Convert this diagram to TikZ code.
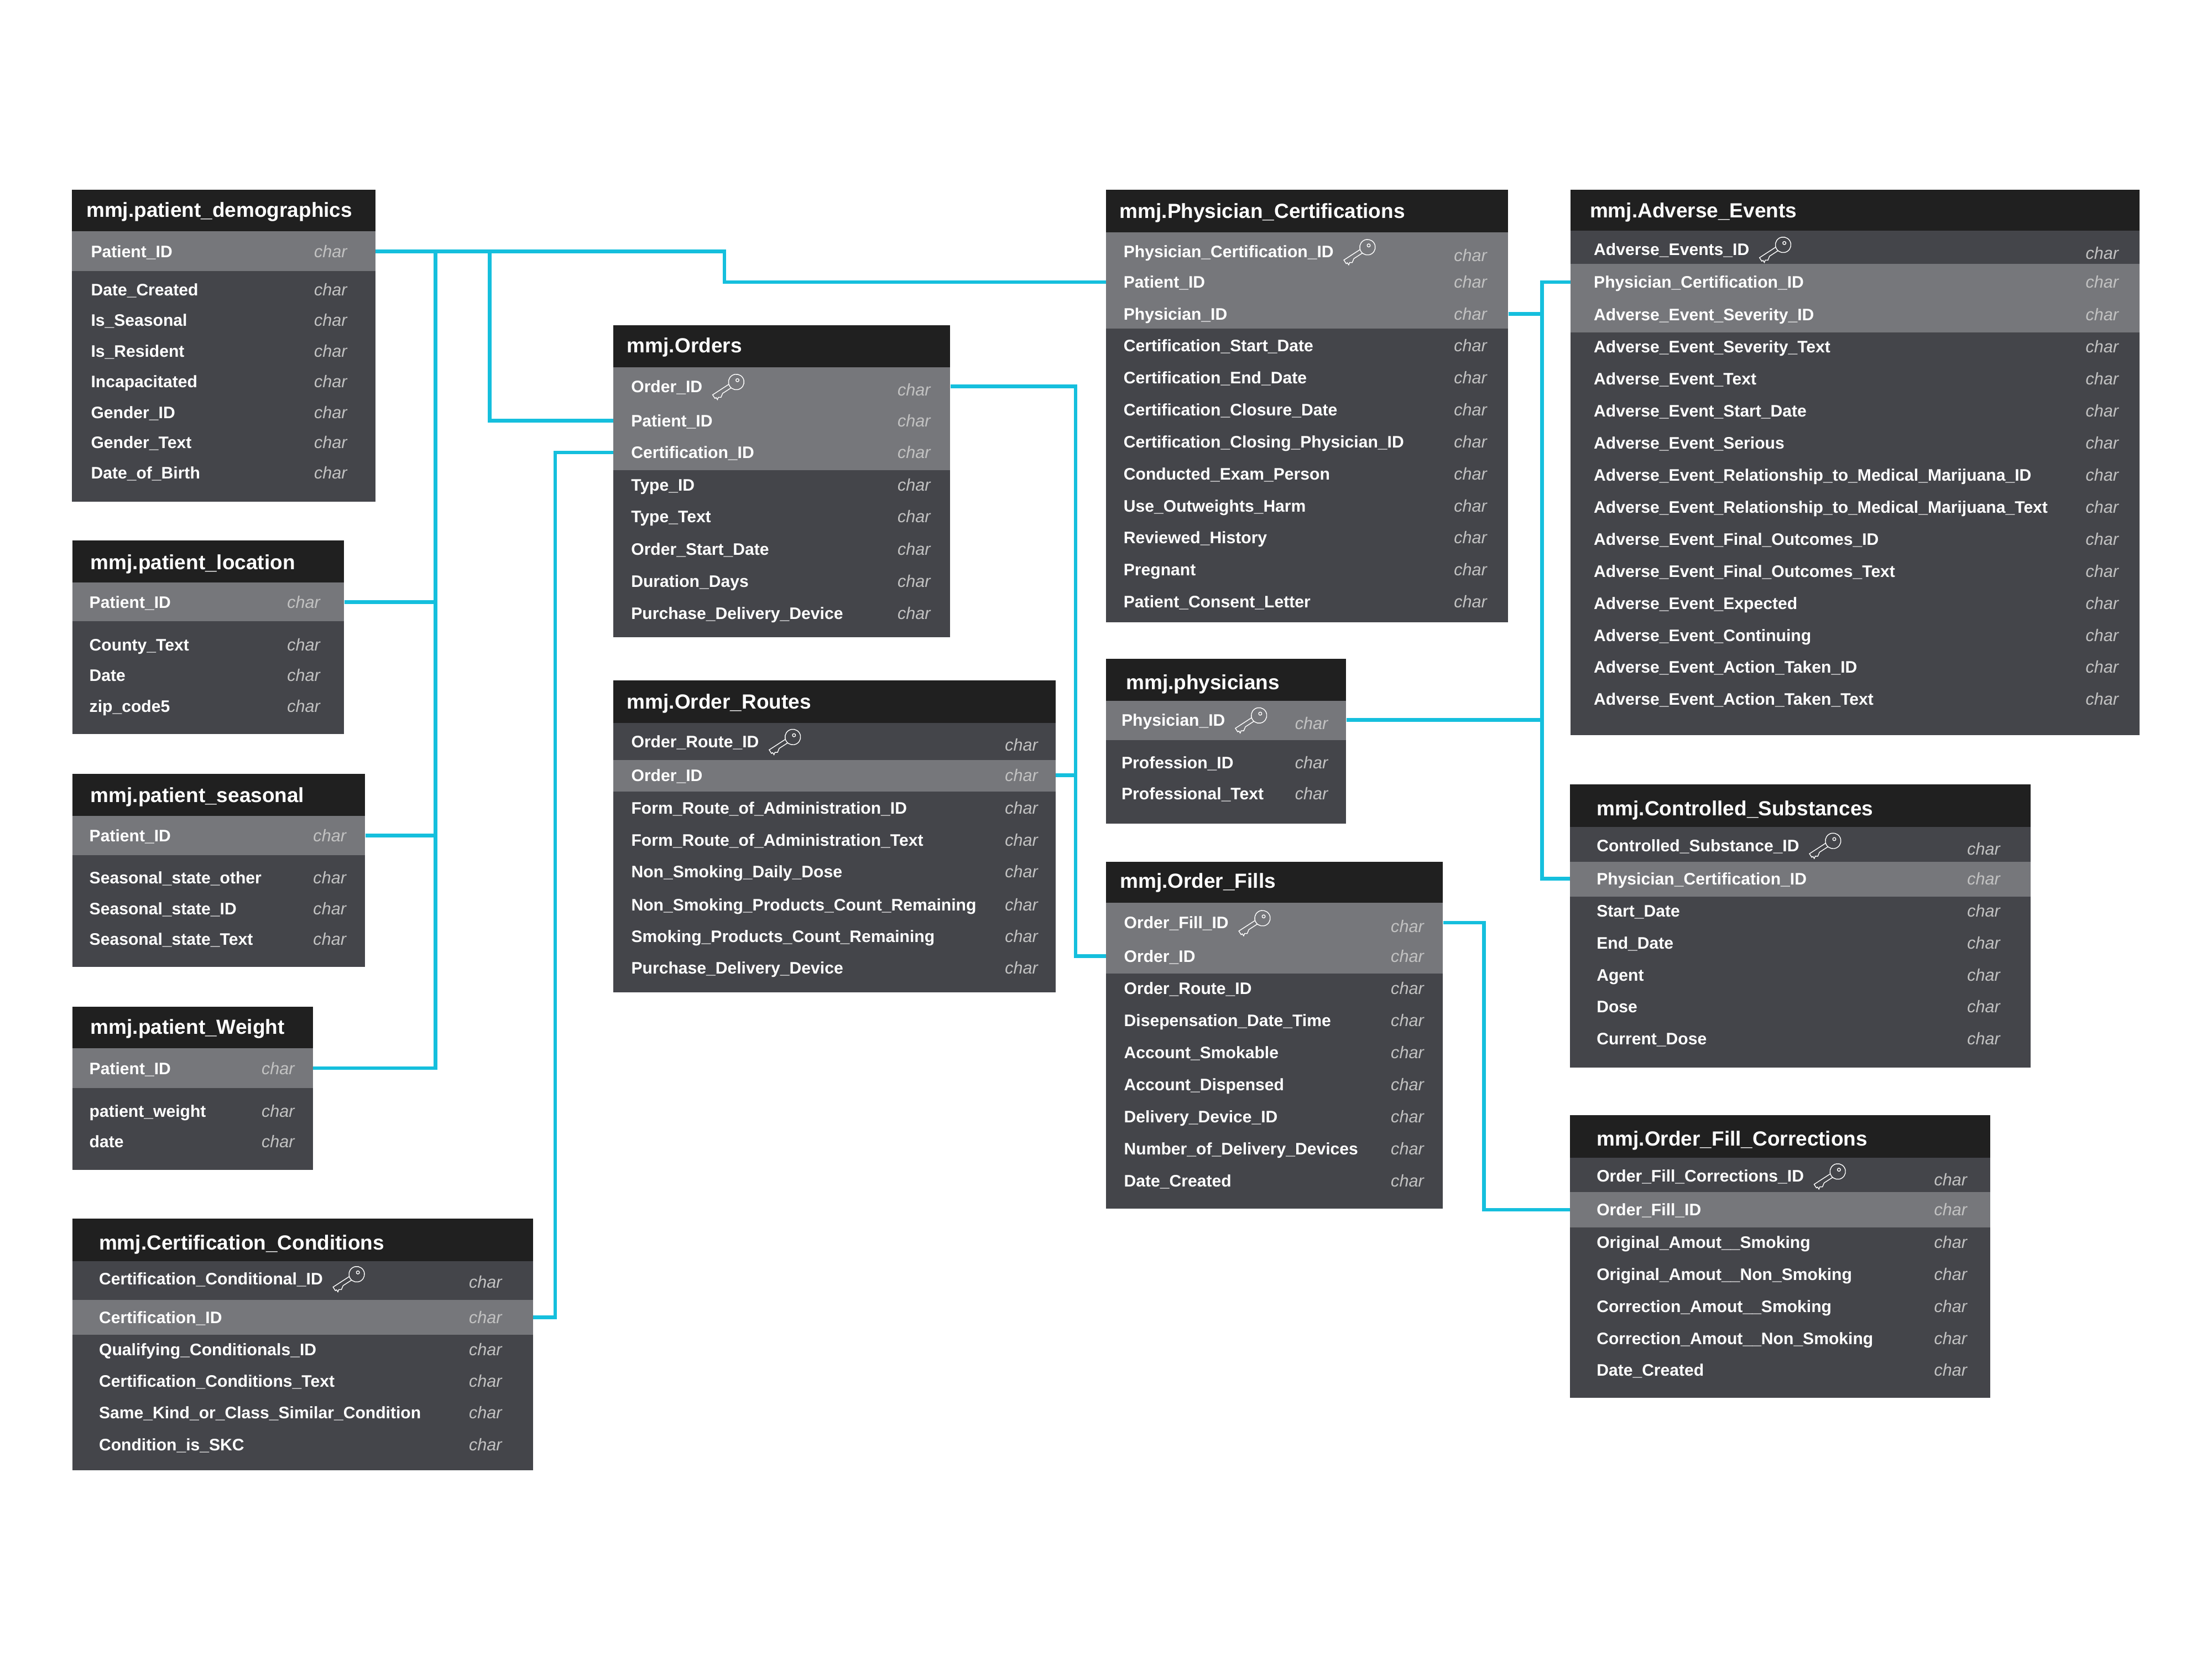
\documentclass[tikz,border=0pt]{standalone}
\usepackage{fontspec}
\setmainfont{Liberation Sans}
\usepackage{tikz}

\definecolor{hdrgray}{HTML}{202020}
\definecolor{bodygray}{HTML}{44454A}
\definecolor{bandgray}{HTML}{76777B}
\definecolor{typegray}{HTML}{C2C2C2}
\definecolor{linkcyan}{HTML}{15BFDD}

% small outlined key
\tikzset{keyico/.pic={
  \begin{scope}[x=1pt,y=1pt,shift={(16.8pt,3.2pt)},rotate=33,draw=white,line width=0.55pt]
  \draw (0,0) circle (5.5);
  \draw (1.4,0.6) circle (1.1);
  \draw (-5.29,1.5) -- (-19,1.5) -- (-19,-1.5) -- (-18,-1.5) -- (-18,-3.2) -- (-16.5,-2.2)
    -- (-15,-3.2) -- (-13.5,-2.2) -- (-12.5,-1.5) -- (-5.29,-1.5);
  \end{scope}}}

\newcommand\ctype{{\fontsize{12}{14}\selectfont\mdseries\itshape\color{typegray}char}}
\newcommand\fld[1]{\hbox to \tw{\hskip\lmar#1\hfill\ctype\hskip\rmar}}
\newcommand\kfld{\hbox to \tw{\hfill\raisebox{-2.5pt}{\ctype}\hskip\rmar}}
\newcommand\tbl[7]{%
  \fill[tbody] (#1,#4) rectangle (#2,#7);
  \fill[hdr] (#1,#3) rectangle (#2,#4);
  \fill[band] (#1,#5) rectangle (#2,#6);}
\newcommand\keyrow[4]{%
  \node[row] (#1) at (#2,#3) {\kfld};
  \node[row,anchor=west,xshift=\lmar] (#1-t) at (#1.west) {#4};
  \pic at ([xshift=7pt]#1-t.east) {keyico};}

\begin{document}
\begin{tikzpicture}[x=1pt,y=-1pt,
hdr/.style={fill=hdrgray},
tbody/.style={fill=bodygray},
band/.style={fill=bandgray},
ttl/.style={anchor=west,inner sep=0pt,text height=10.4pt,text depth=0pt,text=white,
  font=\fontsize{14.5}{17}\selectfont\bfseries},
row/.style={inner sep=0pt,text height=8.5pt,text depth=0pt,text=white,
  font=\fontsize{11.8}{14}\selectfont\bfseries},
conn/.style={draw=linkcyan,line width=2.6pt}]
\useasboundingbox (0,0) rectangle (1568,1176);

% patient tables
\tbl{51}{266}{134.5}{164}{164}{192}{355.4}
\node[ttl] (pd) at (61,148.5) {mmj.patient\_demographics};
\def\tw{215pt}\def\lmar{13.5pt}\def\rmar{20pt}
\foreach \n/\lbl/\y in {pid/Patient\_ID/178.1, dc/Date\_Created/205.1, se/Is\_Seasonal/226.9,
  re/Is\_Resident/248.6, in/Incapacitated/270.4, gi/Gender\_ID/292.1, gt/Gender\_Text/313.6,
  db/Date\_of\_Birth/335.2}
  \node[row] (pd-\n) at (158.5,\y) {\fld{\lbl}};

\tbl{51.4}{243.9}{383}{412.8}{412.8}{440.4}{520.3}
\node[ttl] (pl) at (64,398.2) {mmj.patient\_location};
\def\tw{192.5pt}\def\lmar{12pt}\def\rmar{17pt}
\foreach \n/\lbl/\y in {pid/Patient\_ID/426.7, ct/County\_Text/456.8, dt/Date/478.6, zc/zip\_code5/500.5}
  \node[row] (pl-\n) at (147.65,\y) {\fld{\lbl}};

\tbl{51.4}{258.9}{548.3}{578}{578}{606}{685.3}
\node[ttl] (ps) at (64,563.4) {mmj.patient\_seasonal};
\def\tw{207.5pt}\def\lmar{12pt}\def\rmar{13.5pt}
\foreach \n/\lbl/\y in {pid/Patient\_ID/592, so/Seasonal\_state\_other/622,
  si/Seasonal\_state\_ID/643.9, st/Seasonal\_state\_Text/665.4}
  \node[row] (ps-\n) at (155.15,\y) {\fld{\lbl}};

\tbl{51.4}{221.8}{713.5}{742.9}{742.9}{771.2}{829}
\node[ttl] (pw) at (64,727.5) {mmj.patient\_Weight};
\def\tw{170.4pt}\def\lmar{12pt}\def\rmar{13pt}
\foreach \n/\lbl/\y in {pid/Patient\_ID/757, wt/patient\_weight/787.3, dt/date/808.8}
  \node[row] (pw-\n) at (136.6,\y) {\fld{\lbl}};

\tbl{51.4}{377.8}{863.5}{893.8}{921}{945.8}{1042}
\node[ttl] (cc) at (70,880.7) {mmj.Certification\_Conditions};
\def\tw{326.4pt}\def\lmar{18.8pt}\def\rmar{22pt}
\keyrow{cc-ccid}{214.6}{906.2}{Certification\_Conditional\_ID}
\foreach \n/\lbl/\y in {cid/Certification\_ID/933.6, qc/Qualifying\_Conditionals\_ID/956.5,
  ct/Certification\_Conditions\_Text/978.7, sk/Same\_Kind\_or\_Class\_Similar\_Condition/1001.2,
  is/Condition\_is\_SKC/1023.8}
  \node[row] (cc-\n) at (214.6,\y) {\fld{\lbl}};

% order tables
\tbl{434.8}{673.6}{230.4}{260.4}{260.4}{333.1}{451.6}
\node[ttl] (or) at (444.3,244.6) {mmj.Orders};
\def\tw{238.8pt}\def\lmar{12.6pt}\def\rmar{14pt}
\keyrow{or-oid}{554.2}{273.9}{Order\_ID}
\foreach \n/\lbl/\y in {pat/Patient\_ID/298.2, cid/Certification\_ID/320.7, ti/Type\_ID/343.6,
  tt/Type\_Text/366.1, sd/Order\_Start\_Date/389, dd/Duration\_Days/411.9,
  pd/Purchase\_Delivery\_Device/434.4}
  \node[row] (or-\n) at (554.2,\y) {\fld{\lbl}};

\tbl{434.7}{748.2}{482}{512.5}{538.5}{560.8}{703.3}
\node[ttl] (rt) at (444.2,497) {mmj.Order\_Routes};
\def\tw{313.5pt}\def\lmar{12.8pt}\def\rmar{12.5pt}
\keyrow{rt-rid}{591.45}{525.5}{Order\_Route\_ID}
\foreach \n/\lbl/\y in {oid/Order\_ID/549.5, fi/Form\_Route\_of\_Administration\_ID/572.4,
  ft/Form\_Route\_of\_Administration\_Text/595.2, nd/Non\_Smoking\_Daily\_Dose/617.8,
  nr/Non\_Smoking\_Products\_Count\_Remaining/641, sr/Smoking\_Products\_Count\_Remaining/663.5,
  pd/Purchase\_Delivery\_Device/686}
  \node[row] (rt-\n) at (591.45,\y) {\fld{\lbl}};

% physician tables
\tbl{784}{1069}{134.6}{164.6}{164.6}{232.9}{441}
\node[ttl] (pc) at (793.5,149.6) {mmj.Physician\_Certifications};
\def\tw{285pt}\def\lmar{12.5pt}\def\rmar{15pt}
\keyrow{pc-pcid}{926.5}{178.4}{Physician\_Certification\_ID}
\foreach \n/\lbl/\y in {pat/Patient\_ID/199.9, phy/Physician\_ID/222.4,
  sd/Certification\_Start\_Date/245, ed/Certification\_End\_Date/267.6,
  cd/Certification\_Closure\_Date/290.3, cp/Certification\_Closing\_Physician\_ID/313,
  ce/Conducted\_Exam\_Person/335.7, uo/Use\_Outweights\_Harm/358.4, rh/Reviewed\_History/381,
  pr/Pregnant/403.8, pl/Patient\_Consent\_Letter/426.5}
  \node[row] (pc-\n) at (926.5,\y) {\fld{\lbl}};

\tbl{784}{954.3}{466.9}{496.8}{496.8}{524.3}{583.6}
\node[ttl] (ph) at (798,483.6) {mmj.physicians};
\def\tw{170.3pt}\def\lmar{11pt}\def\rmar{13pt}
\keyrow{ph-pid}{869.15}{510.2}{Physician\_ID}
\foreach \n/\lbl/\y in {pf/Profession\_ID/540.6, pt/Professional\_Text/562.2}
  \node[row] (ph-\n) at (869.15,\y) {\fld{\lbl}};

\tbl{784}{1022.9}{610.6}{639.7}{639.7}{690}{856.6}
\node[ttl] (of) at (793.7,624.3) {mmj.Order\_Fills};
\def\tw{238.9pt}\def\lmar{12.8pt}\def\rmar{13.6pt}
\keyrow{of-fid}{903.45}{653.9}{Order\_Fill\_ID}
\foreach \n/\lbl/\y in {oid/Order\_ID/677.6, rid/Order\_Route\_ID/700.2,
  dt/Disepensation\_Date\_Time/723.2, as/Account\_Smokable/745.8, ad/Account\_Dispensed/768.5,
  dd/Delivery\_Device\_ID/791.4, nd/Number\_of\_Delivery\_Devices/814.1, dc/Date\_Created/836.7}
  \node[row] (of-\n) at (903.45,\y) {\fld{\lbl}};

% right column
\tbl{1113.3}{1516.5}{134.6}{163.3}{186.9}{235.5}{521}
\node[ttl] (ae) at (1126.8,149) {mmj.Adverse\_Events};
\def\tw{403.2pt}\def\lmar{16.5pt}\def\rmar{14.7pt}
\keyrow{ae-aeid}{1314.9}{176.7}{Adverse\_Events\_ID}
\foreach \n/\lbl/\y in {pcid/Physician\_Certification\_ID/199.9,
  svi/Adverse\_Event\_Severity\_ID/222.8, svt/Adverse\_Event\_Severity\_Text/245.7,
  txt/Adverse\_Event\_Text/268.5, sd/Adverse\_Event\_Start\_Date/291.2,
  ser/Adverse\_Event\_Serious/313.9,
  rli/Adverse\_Event\_Relationship\_to\_Medical\_Marijuana\_ID/336.6,
  rlt/Adverse\_Event\_Relationship\_to\_Medical\_Marijuana\_Text/359.3,
  foi/Adverse\_Event\_Final\_Outcomes\_ID/382, fot/Adverse\_Event\_Final\_Outcomes\_Text/404.7,
  exp/Adverse\_Event\_Expected/427.4, con/Adverse\_Event\_Continuing/450.1,
  ati/Adverse\_Event\_Action\_Taken\_ID/472.8, att/Adverse\_Event\_Action\_Taken\_Text/495.5}
  \node[row] (ae-\n) at (1314.9,\y) {\fld{\lbl}};

\tbl{1113}{1439.5}{556}{586.2}{610.6}{635.6}{756.4}
\node[ttl] (cs) at (1131.8,572.7) {mmj.Controlled\_Substances};
\def\tw{326.5pt}\def\lmar{18.8pt}\def\rmar{21.7pt}
\keyrow{cs-csid}{1276.25}{599.1}{Controlled\_Substance\_ID}
\foreach \n/\lbl/\y in {pcid/Physician\_Certification\_ID/622.7, sd/Start\_Date/645.4,
  ed/End\_Date/668.1, ag/Agent/690.8, ds/Dose/713.2, cd/Current\_Dose/736.2}
  \node[row] (cs-\n) at (1276.25,\y) {\fld{\lbl}};

\tbl{1113}{1410.9}{790.3}{820.5}{844.9}{869.9}{990.7}
\node[ttl] (fc) at (1131.8,807) {mmj.Order\_Fill\_Corrections};
\def\tw{297.9pt}\def\lmar{18.8pt}\def\rmar{16.5pt}
\keyrow{fc-fcid}{1261.95}{833.4}{Order\_Fill\_Corrections\_ID}
\foreach \n/\lbl/\y in {fid/Order\_Fill\_ID/857.3, os/Original\_Amout\_\_Smoking/880.3,
  on/Original\_Amout\_\_Non\_Smoking/903.2, cs/Correction\_Amout\_\_Smoking/925.7,
  cn/Correction\_Amout\_\_Non\_Smoking/948.4, dc/Date\_Created/970.9}
  \node[row] (fc-\n) at (1261.95,\y) {\fld{\lbl}};

% links
\coordinate (j1) at (513.5,0);
\coordinate (j2) at (308.6,0);
\coordinate (j3) at (347,0);
\coordinate (j4) at (393.5,0);
\coordinate (j5) at (762.5,0);
\coordinate (j6) at (1093,0);
\coordinate (j7) at (1051.8,0);
\draw[conn] (pd-pid.east) -| (j1 |- pc-pat.west) -- (pc-pat.west);
\draw[conn] (j2 |- pd-pid.east) |- (pw-pid.east);
\draw[conn] (pl-pid.east) -- (j2 |- pl-pid.east);
\draw[conn] (ps-pid.east) -- (j2 |- ps-pid.east);
\draw[conn] (j3 |- pd-pid.east) |- (or-pat.west);
\draw[conn] (cc-cid.east) -| (j4 |- or-cid.west) -- (or-cid.west);
\draw[conn] (or-oid.east) -| (j5 |- of-oid.west) -- (of-oid.west);
\draw[conn] (rt-oid.east) -- (j5 |- rt-oid.east);
\draw[conn] (pc-phy.east) -- (j6 |- pc-phy.east);
\draw[conn] (ae-pcid.west) -| (j6 |- cs-pcid.west) -- (cs-pcid.west);
\draw[conn] (ph-pid.east) -- (j6 |- ph-pid.east);
\draw[conn] (of-fid.east) -| (j7 |- fc-fid.west) -- (fc-fid.west);
\end{tikzpicture}
\end{document}
